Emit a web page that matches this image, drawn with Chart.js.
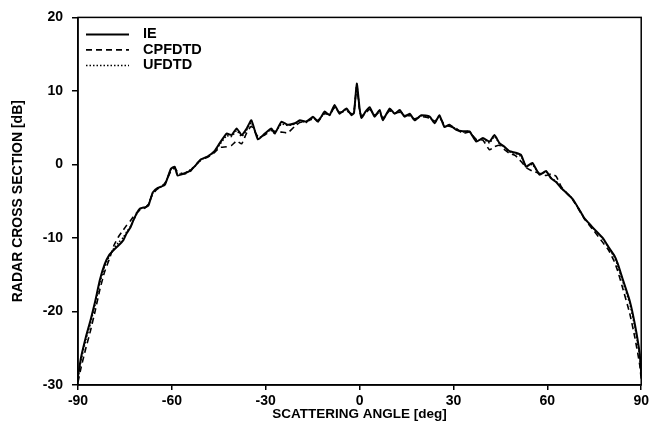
<!DOCTYPE html>
<html>
<head>
<meta charset="utf-8">
<title>Radar cross section</title>
<script src="https://cdn.jsdelivr.net/npm/chart.js@4/dist/chart.umd.min.js"></script>
<style>
    html, body { margin: 0; padding: 0; background: #fff; }
    #wrap { width: 652px; height: 436px; }
</style>
</head>
<body>
<div id="wrap"><canvas id="rcsChart" width="652" height="436"></canvas></div>
<script>
// Scattering angles [deg] shared by the three curves
const angles = [
    -90, -89, -87.5, -86, -84.5, -83, -81.5, -80, -78.5, -77,
    -75.5, -74.5, -73.3, -72.3, -71.3, -70.2, -68.5, -67.5, -66.1, -64.5,
    -62.3, -60.3, -59.1, -58.2, -55.9, -54, -52.8, -50.7, -48.5, -46.4,
    -44.7, -42.5, -40.9, -39.3, -37.7, -36.2, -34.6, -32.5, -30.3, -28.2,
    -27.1, -25.0, -23.0, -20.7, -19.1, -17.0, -14.9, -13.3, -11.2, -9.6,
    -8.0, -6.4, -4.2, -2.6, -1.8, -0.9, 0.0, 0.6, 1.9, 3.2,
    4.8, 6.4, 7.4, 9.6, 11.2, 12.8, 14.4, 16.0, 17.6, 19.7,
    22.4, 24.0, 25.5, 27.1, 28.7, 30.9, 33.0, 35.1, 37.3, 39.4,
    41.5, 43.1, 44.7, 46.3, 47.9, 49.8, 51.6, 53.2, 55.2, 57.5,
    59.6, 61.2, 62.8, 64.4, 66.2, 68.1, 70, 71.8, 73.5, 75.0,
    77.7, 79.5, 81.4, 82.5, 84, 86.3, 88, 89.5, 90
];

// Radar cross section [dB]
const ieValues = [
    -28.8, -26.2, -23.5, -21.2, -18.6, -15.7, -13.6, -12.3, -11.6, -11.0,
    -10.3, -9.4, -8.6, -7.6, -6.7, -6.0, -5.8, -5.6, -3.8, -3.2,
    -2.8, -0.6, -0.3, -1.5, -1.2, -0.8, -0.3, 0.7, 1.1, 1.8,
    2.9, 4.2, 4.0, 4.9, 4.0, 4.8, 6.0, 3.4, 4.2, 4.9,
    4.2, 5.8, 5.4, 5.6, 6.0, 5.8, 6.5, 5.8, 7.2, 6.7,
    8.1, 6.9, 7.6, 6.7, 7.0, 11.0, 7.6, 6.3, 7.2, 7.8,
    6.5, 7.4, 6.0, 7.6, 6.9, 7.4, 6.5, 6.9, 6.0, 6.7,
    6.5, 5.6, 6.7, 5.1, 5.4, 4.7, 4.5, 4.5, 3.1, 3.6,
    3.1, 4.0, 2.9, 2.4, 1.8, 1.6, 1.3, -0.3, 0.2, -1.4,
    -0.9, -1.9, -2.4, -3.2, -3.9, -4.7, -6.0, -7.3, -8.1, -8.8,
    -10.0, -11.2, -12.4, -13.5, -15.5, -18.5, -21.8, -25.7, -28.4
];

const cpfdtdValues = [
    -29.6, -27.6, -25.0, -22.6, -19.9, -17.0, -14.6, -12.9, -11.0, -9.8,
    -8.9, -8.3, -7.7, -7.1, -6.6, -6.2, -5.9, -5.4, -4.0, -3.3,
    -2.6, -0.9, -0.5, -1.0, -1.3, -0.9, -0.2, 0.6, 1.0, 1.6,
    2.3, 2.4, 2.6, 3.2, 2.8, 4.2, 5.2, 3.8, 4.0, 4.6,
    4.5, 4.4, 4.3, 5.2, 5.7, 5.9, 6.2, 6.0, 6.9, 6.8,
    7.7, 7.1, 7.3, 6.9, 7.2, 10.6, 7.3, 6.6, 7.0, 7.5,
    6.7, 7.1, 6.3, 7.3, 7.0, 7.1, 6.7, 6.6, 6.2, 6.5,
    6.3, 5.9, 6.4, 5.4, 5.2, 4.9, 4.2, 4.4, 3.4, 3.3,
    2.0, 2.4, 2.6, 2.0, 1.5, 1.2, 0.4, -0.4, -0.9, -1.2,
    -1.5, -1.3, -1.6, -3.0, -3.9, -4.8, -6.1, -7.4, -8.3, -9.1,
    -10.6, -11.6, -13.2, -14.5, -16.7, -20.2, -23.6, -27.2, -29.2
];

const ufdtdValues = [
    -29.0, -26.6, -23.9, -21.6, -19.0, -16.1, -13.9, -12.5, -11.4, -10.6,
    -9.9, -9.2, -8.5, -7.6, -6.8, -6.1, -5.8, -5.5, -3.9, -3.3,
    -2.7, -0.7, -0.4, -1.3, -1.2, -0.7, -0.3, 0.6, 1.1, 1.7,
    2.7, 3.9, 3.8, 4.6, 3.8, 4.6, 5.7, 3.6, 4.1, 4.8,
    4.3, 5.5, 5.3, 5.5, 5.9, 5.7, 6.4, 5.9, 7.0, 6.7,
    7.9, 7.0, 7.4, 6.8, 7.1, 10.8, 7.5, 6.4, 7.1, 7.6,
    6.6, 7.3, 6.1, 7.5, 6.9, 7.3, 6.6, 6.8, 6.1, 6.6,
    6.4, 5.7, 6.6, 5.2, 5.3, 4.8, 4.4, 4.5, 3.2, 3.5,
    2.9, 3.8, 2.8, 2.3, 1.7, 1.5, 1.1, -0.2, 0.0, -1.3,
    -1.0, -1.8, -2.3, -3.2, -3.9, -4.7, -6.0, -7.3, -8.1, -8.9,
    -10.1, -11.3, -12.6, -13.8, -15.8, -18.9, -22.2, -26.0, -28.7
];

const seriesNames = ['IE', 'CPFDTD', 'UFDTD'];
const xTicks = [-90, -60, -30, 0, 30, 60, 90];
const yTicks = [-30, -20, -10, 0, 10, 20];

const FONT = '"Liberation Sans", Arial, Helvetica, sans-serif';

function toPoints(values) {
    return angles.map((a, i) => ({ x: a, y: values[i] }));
}

// Box around the plot plus the legend in the upper left corner
const framePlugin = {
    id: 'frame',
    afterDraw(chart) {
        const ctx = chart.ctx;
        const area = chart.chartArea;
        ctx.save();
        ctx.strokeStyle = '#000';
        ctx.lineWidth = 1.5;
        ctx.strokeRect(area.left, area.top, area.right - area.left, area.bottom - area.top);

        const x0 = area.left + 8;
        const x1 = area.left + 51;
        let y = area.top + 17;
        ctx.font = 'bold 14.5px ' + FONT;
        ctx.textBaseline = 'middle';
        ctx.fillStyle = '#000';
        chart.data.datasets.forEach(ds => {
            ctx.beginPath();
            ctx.lineWidth = ds.borderWidth;
            ctx.setLineDash(ds.borderDash || []);
            ctx.moveTo(x0, y);
            ctx.lineTo(x1, y);
            ctx.stroke();
            ctx.setLineDash([]);
            ctx.fillText(ds.label, area.left + 65, y);
            y += 15.5;
        });
        ctx.restore();
    }
};

const rcsCtx = document.getElementById('rcsChart').getContext('2d');
new Chart(rcsCtx, {
    type: 'line',
    data: {
        datasets: [{
            label: seriesNames[0],
            data: toPoints(ieValues),
            borderColor: '#000',
            borderWidth: 2,
            tension: 0.15
        }, {
            label: seriesNames[1],
            data: toPoints(cpfdtdValues),
            borderColor: '#000',
            borderWidth: 1.6,
            borderDash: [6, 4],
            tension: 0.15
        }, {
            label: seriesNames[2],
            data: toPoints(ufdtdValues),
            borderColor: '#000',
            borderWidth: 1.5,
            borderDash: [1.5, 2],
            tension: 0.15
        }]
    },
    options: {
        responsive: false,
        animation: false,
        events: [],
        elements: { point: { radius: 0 } },
        layout: { padding: { left: 0, right: 10, top: 15, bottom: 0 } },
        plugins: {
            legend: { display: false },
            tooltip: { enabled: false }
        },
        scales: {
            x: {
                type: 'linear',
                min: -90,
                max: 90,
                afterFit: scale => { scale.height = 51; },
                afterBuildTicks: scale => { scale.ticks = xTicks.map(v => ({ value: v })); },
                border: { display: true, color: '#000', width: 1.5 },
                grid: { drawOnChartArea: false, drawTicks: true, tickLength: 5, color: '#000', lineWidth: 1.5 },
                ticks: {
                    color: '#000',
                    padding: 3,
                    maxRotation: 0,
                    font: { family: FONT, size: 14, weight: 'bold' }
                },
                title: {
                    display: true,
                    text: 'SCATTERING ANGLE [deg]',
                    color: '#000',
                    padding: { top: 0, bottom: 14 },
                    font: { family: FONT, size: 13.5, weight: 'bold' }
                }
            },
            y: {
                min: -30,
                max: 20,
                afterFit: scale => { scale.width = 78; },
                afterBuildTicks: scale => { scale.ticks = yTicks.map(v => ({ value: v })); },
                border: { display: true, color: '#000', width: 1.5 },
                grid: { drawOnChartArea: false, drawTicks: true, tickLength: 6, color: '#000', lineWidth: 1.5 },
                ticks: {
                    color: '#000',
                    padding: 9,
                    font: { family: FONT, size: 14, weight: 'bold' }
                },
                title: {
                    display: true,
                    text: 'RADAR CROSS SECTION [dB]',
                    color: '#000',
                    padding: { top: 10, bottom: 0 },
                    font: { family: FONT, size: 14, weight: 'bold' }
                }
            }
        }
    },
    plugins: [framePlugin]
});
</script>
</body>
</html>
